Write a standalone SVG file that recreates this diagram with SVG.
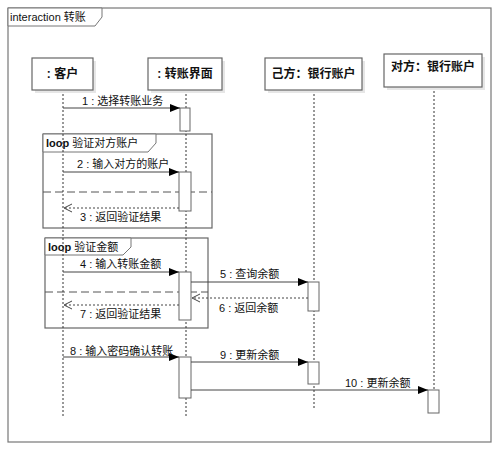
<svg xmlns="http://www.w3.org/2000/svg" width="499" height="450" viewBox="0 0 499 450">
<defs>
<marker id="solid" markerWidth="10" markerHeight="8" refX="10" refY="4" orient="auto" markerUnits="userSpaceOnUse">
<path d="M0,0 L10,4 L0,8 Z" fill="#000"/>
</marker>
<marker id="open" markerWidth="10" markerHeight="10" refX="9" refY="5" orient="auto" markerUnits="userSpaceOnUse">
<path d="M1,1 L9,5 L1,9" fill="none" stroke="#444" stroke-width="1"/>
</marker>
</defs>
<style>
text{font-family:"Liberation Sans","Noto Sans CJK SC",sans-serif;font-size:11px;fill:#111}
.head{font-size:12px;font-weight:bold;text-anchor:middle}
.frame{fill:none;stroke:#777;stroke-width:1.2}
.tab{fill:#fff;stroke:#777;stroke-width:1}
.box{fill:#fff;stroke:#666;stroke-width:1.2}
.shadow{fill:#e6e6e6}
.life{stroke:#333;stroke-width:1;stroke-dasharray:2,2}
.act{fill:#fff;stroke:#666;stroke-width:1}
.msg{stroke:#444;stroke-width:1;fill:none}
.ret{stroke:#444;stroke-width:1;stroke-dasharray:2,2;fill:none}
.sep{stroke:#555;stroke-width:1;stroke-dasharray:8,4}
</style>
<rect x="0" y="0" width="499" height="450" fill="#fff"/>
<g id="frame">
<rect class="frame" x="8" y="8" width="483" height="434"/>
<path class="tab" d="M8,8 H102 V17 L95,26 H8 Z"/>
<text x="10" y="21">interaction 转账</text>
</g>
<g id="loop1">
<rect class="frame" x="43" y="134" width="169" height="94" style="stroke:#666"/>
<path class="tab" d="M43,134 H156 V143 L148,152 H43 Z"/>
<text x="46" y="147"><tspan font-weight="bold">loop</tspan> 验证对方账户</text>
<line class="sep" x1="43" y1="192" x2="212" y2="192"/>
</g>
<g id="loop2">
<rect class="frame" x="45" y="238" width="163" height="90" style="stroke:#666"/>
<path class="tab" d="M45,238 H131 V247 L123,255 H45 Z"/>
<text x="48" y="251"><tspan font-weight="bold">loop</tspan> 验证金额</text>
<line class="sep" x1="45" y1="292" x2="208" y2="292"/>
</g>
<g id="lifelines">
<line class="life" x1="63" y1="90" x2="63" y2="418"/>
<line class="life" x1="186" y1="90" x2="186" y2="418"/>
<line class="life" x1="314" y1="90" x2="314" y2="409"/>
<line class="life" x1="434" y1="87" x2="434" y2="390"/>
</g>
<g id="customer">
<rect class="shadow" x="35" y="61" width="61" height="32"/>
<rect class="box" x="32" y="58" width="61" height="32"/>
<text class="head" x="62.5" y="78">: 客户</text>
</g>
<g id="ui">
<rect class="shadow" x="151" y="61" width="74" height="32"/>
<rect class="box" x="148" y="58" width="74" height="32"/>
<text class="head" x="185" y="78">: 转账界面</text>
</g>
<g id="own">
<rect class="shadow" x="268" y="61" width="97" height="32"/>
<rect class="box" x="265" y="58" width="97" height="32"/>
<text class="head" x="313.5" y="78">己方：银行账户</text>
</g>
<g id="other">
<rect class="shadow" x="387" y="57" width="98" height="33"/>
<rect class="box" x="384" y="54" width="98" height="33"/>
<text class="head" x="433" y="71">对方：银行账户</text>
</g>
<g id="activations">
<rect class="act" x="180" y="108" width="10" height="23"/>
<rect class="act" x="179" y="172" width="12" height="39"/>
<rect class="act" x="179" y="272" width="12" height="48"/>
<rect class="act" x="308" y="282" width="11" height="29"/>
<rect class="act" x="179" y="357" width="12" height="41"/>
<rect class="act" x="308" y="362" width="11" height="22"/>
<rect class="act" x="428" y="390" width="11" height="23"/>
</g>
<g id="connectors">
<line class="msg" x1="63" y1="108" x2="180" y2="108" marker-end="url(#solid)"/>
<line class="msg" x1="63" y1="172" x2="179" y2="172" marker-end="url(#solid)"/>
<line class="ret" x1="179" y1="208" x2="64" y2="208" marker-end="url(#open)"/>
<line class="msg" x1="63" y1="272" x2="179" y2="272" marker-end="url(#solid)"/>
<line class="msg" x1="191" y1="282" x2="308" y2="282" marker-end="url(#solid)"/>
<line class="ret" x1="308" y1="298" x2="192" y2="298" marker-end="url(#open)"/>
<line class="ret" x1="179" y1="305" x2="64" y2="305" marker-end="url(#open)"/>
<line class="msg" x1="63" y1="357" x2="179" y2="357" marker-end="url(#solid)"/>
<line class="msg" x1="191" y1="362" x2="308" y2="362" marker-end="url(#solid)"/>
<line class="msg" x1="191" y1="390" x2="428" y2="390" marker-end="url(#solid)"/>
</g>
<g id="labels">
<text x="82" y="105">1 : 选择转账业务</text>
<text x="77" y="168">2 : 输入对方的账户</text>
<text x="80" y="221">3 : 返回验证结果</text>
<text x="80" y="268">4 : 输入转账金额</text>
<text x="220" y="278">5 : 查询余额</text>
<text x="219" y="312">6 : 返回余额</text>
<text x="80" y="318">7 : 返回验证结果</text>
<text x="70" y="355">8 : 输入密码确认转账</text>
<text x="220" y="359">9 : 更新余额</text>
<text x="345" y="387">10 : 更新余额</text>
</g>
</svg>
